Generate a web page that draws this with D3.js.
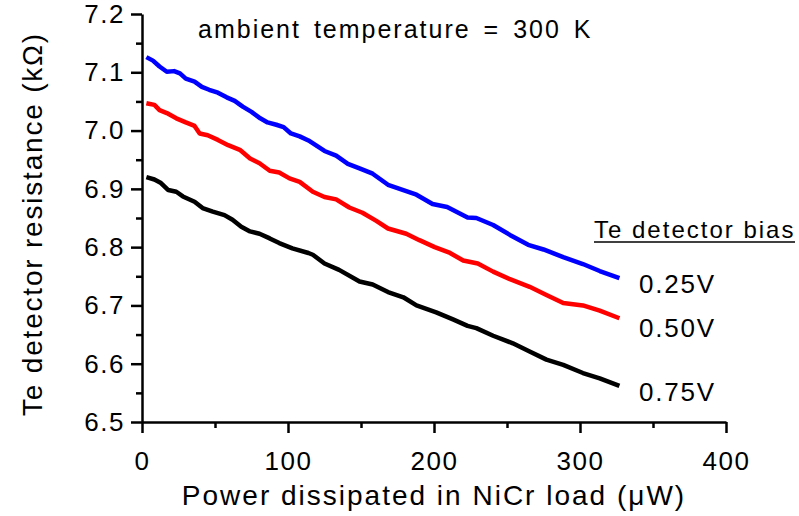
<!DOCTYPE html>
<html>
<head>
<meta charset="utf-8">
<script src="https://cdn.jsdelivr.net/npm/d3@7"></script>
<style>
  body { margin: 0; background: #fff; }
  svg text { font-family: "Liberation Sans", Arial, sans-serif; fill: #000; }
</style>
</head>
<body>
<svg id="chart" width="799" height="516"></svg>
<script>
// Power dissipated in NiCr load (uW) and Te detector resistance (kOhm)
const powerBlue = [3, 7.5, 12, 17, 22, 26, 30, 36, 41, 46, 52, 58, 63.5, 69, 75, 81, 86, 92, 97, 102, 108, 114, 125, 133, 141, 149, 158, 168.5, 179, 188, 199, 209, 223, 229, 240.5, 252, 264.5, 275, 288.5, 302, 313.5, 327];
const bias025 = [7.126, 7.120, 7.110, 7.101, 7.102, 7.098, 7.089, 7.084, 7.075, 7.070, 7.065, 7.057, 7.051, 7.041, 7.032, 7.021, 7.014, 7.010, 7.006, 6.995, 6.990, 6.983, 6.965, 6.957, 6.943, 6.935, 6.926, 6.907, 6.898, 6.890, 6.874, 6.869, 6.851, 6.850, 6.838, 6.821, 6.804, 6.796, 6.783, 6.771, 6.759, 6.747];

const powerRed = [3, 8.5, 12, 17, 23.5, 30, 36, 39.5, 45, 52, 59, 67, 74, 80.5, 87.5, 94, 101, 108, 117, 125, 133, 142, 151, 160.5, 168.5, 181, 190, 200.5, 211, 220, 230, 240.5, 252, 265.5, 277, 288.5, 302, 313.5, 327];
const bias050 = [7.047, 7.044, 7.035, 7.030, 7.021, 7.014, 7.008, 6.995, 6.992, 6.984, 6.975, 6.967, 6.952, 6.944, 6.931, 6.928, 6.918, 6.912, 6.895, 6.886, 6.882, 6.868, 6.859, 6.845, 6.832, 6.823, 6.812, 6.800, 6.790, 6.777, 6.772, 6.758, 6.745, 6.732, 6.718, 6.704, 6.700, 6.691, 6.678];

const powerBlack = [3, 8.5, 13, 18, 23.5, 28, 36, 41.5, 48.5, 56.5, 62, 68, 74, 80.5, 87.5, 94, 103, 114, 117, 125, 135, 149, 158, 168.5, 179, 188, 201.5, 213, 223, 229, 240.5, 254, 265.5, 277, 288.5, 302, 313.5, 327];
const bias075 = [6.920, 6.916, 6.910, 6.898, 6.895, 6.887, 6.878, 6.867, 6.861, 6.855, 6.847, 6.835, 6.827, 6.823, 6.815, 6.807, 6.798, 6.790, 6.787, 6.772, 6.761, 6.741, 6.736, 6.723, 6.714, 6.700, 6.688, 6.676, 6.665, 6.661, 6.648, 6.635, 6.621, 6.607, 6.598, 6.584, 6.575, 6.562];

const seriesNames = ["0.25V", "0.50V", "0.75V"];
const seriesColors = ["#0000ff", "#ff0000", "#000000"];
const xTicks = [0, 100, 200, 300, 400];
const yTicks = [6.5, 6.6, 6.7, 6.8, 6.9, 7.0, 7.1, 7.2];

const series = [
    { name: seriesNames[0], color: seriesColors[0], x: powerBlue, y: bias025 },
    { name: seriesNames[1], color: seriesColors[1], x: powerRed, y: bias050 },
    { name: seriesNames[2], color: seriesColors[2], x: powerBlack, y: bias075 }
];

const dimensions = {
    width: 799,
    height: 516,
    margin: { top: 14, right: 73, bottom: 94, left: 142 }
};

var svg = d3.select("#chart");

var xScale = d3.scaleLinear()
    .domain([0, 400])
    .range([dimensions.margin.left, dimensions.width - dimensions.margin.right]);

var yScale = d3.scaleLinear()
    .domain([6.5, 7.2])
    .range([dimensions.height - dimensions.margin.bottom, dimensions.margin.top]);

// minor ticks first (short), then major ticks with labels
svg.append("g")
    .attr("transform", `translate(0, ${yScale(6.5)})`)
    .call(d3.axisBottom(xScale).tickValues([50, 150, 250, 350]).tickSize(6).tickFormat(""))
    .call(g => g.select(".domain").remove());

svg.append("g")
    .attr("transform", `translate(${xScale(0)}, 0)`)
    .call(d3.axisLeft(yScale).tickValues([6.55, 6.65, 6.75, 6.85, 6.95, 7.05, 7.15]).tickSize(6).tickFormat(""))
    .call(g => g.select(".domain").remove());

var xAxis = svg.append("g")
    .attr("transform", `translate(0, ${yScale(6.5)})`)
    .call(d3.axisBottom(xScale).tickValues(xTicks).tickSize(11).tickSizeOuter(0).tickPadding(19).tickFormat(d3.format("d")));

var yAxis = svg.append("g")
    .attr("transform", `translate(${xScale(0)}, 0)`)
    .call(d3.axisLeft(yScale).tickValues(yTicks).tickSize(11).tickSizeOuter(0).tickPadding(6).tickFormat(d3.format(".1f")));

svg.selectAll(".tick line").attr("stroke", "#000").attr("stroke-width", 2.5);
svg.selectAll(".domain").attr("stroke", "#000").attr("stroke-width", 2.5);
svg.selectAll(".tick text")
    .style("font-size", "26px")
    .style("letter-spacing", "1.5px")
    .attr("fill", "#000");
xAxis.selectAll(".tick text").attr("dy", "0.71em");

// the lines
var line = d3.line()
    .x(d => xScale(d[0]))
    .y(d => yScale(d[1]));

svg.selectAll(".series")
    .data(series)
    .enter()
    .append("path")
    .attr("class", "series")
    .attr("fill", "none")
    .attr("stroke", d => d.color)
    .attr("stroke-width", 4.5)
    .attr("stroke-linejoin", "round")
    .attr("d", d => line(d.x.map((p, i) => [p, d.y[i]])));

// axis titles
svg.append("text")
    .attr("x", 434)
    .attr("y", 505)
    .attr("text-anchor", "middle")
    .style("font-size", "28px")
    .style("letter-spacing", "2px")
    .text("Power dissipated in NiCr load (\u03bcW)");

svg.append("text")
    .attr("transform", "translate(42, 224) rotate(-90)")
    .attr("text-anchor", "middle")
    .style("font-size", "28px")
    .style("letter-spacing", "1.8px")
    .text("Te detector resistance (k\u03a9)");

// annotation
svg.append("text")
    .attr("x", 198)
    .attr("y", 38)
    .style("font-size", "25px")
    .style("letter-spacing", "2px")
    .style("word-spacing", "4px")
    .text("ambient temperature = 300 K");

// legend
svg.append("text")
    .attr("x", 594)
    .attr("y", 238)
    .style("font-size", "24px")
    .style("letter-spacing", "2px")
    .text("Te detector bias");

svg.append("line")
    .attr("x1", 594)
    .attr("x2", 795)
    .attr("y1", 242)
    .attr("y2", 242)
    .attr("stroke", "#000")
    .attr("stroke-width", 1.5);

const labelBaselines = [293, 337, 401];
svg.selectAll(".legend")
    .data(series)
    .enter()
    .append("text")
    .attr("class", "legend")
    .attr("x", 639)
    .attr("y", (d, i) => labelBaselines[i])
    .style("font-size", "26px")
    .style("letter-spacing", "1.8px")
    .text(d => d.name);
</script>
</body>
</html>
